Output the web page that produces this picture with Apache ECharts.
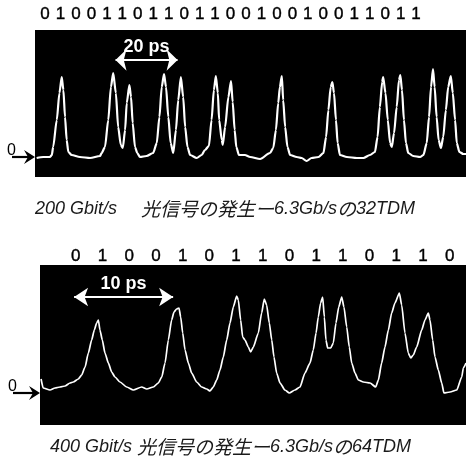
<!DOCTYPE html>
<html><head><meta charset="utf-8">
<script src="https://cdn.jsdelivr.net/npm/echarts@6/dist/echarts.min.js"></script>
<style>html,body{margin:0;padding:0;background:#fff}#c{width:466px;height:464px}</style>
</head><body><div id="c"></div>
<script>
// ---- data ----
const topBits = ['0','1','0','0','1','1','0','1','1','0','1','1','0','0','1','0','0','1','0','0','1','1','0','1','1'];
const bottomBits = ['0','1','0','0','1','0','1','1','0','1','1','0','1','1','0'];

// 200 Gbit/s trace: time (ps), amplitude (a.u.)
const topTime = [0.5,2.5,4.5,5.1,5.5,6.6,7.4,8.1,8.6,9.1,9.6,10.1,11.1,13.6,16.7,19.7,20.2,21.2,22.2,23.0,23.7,24.5,25.2,26.0,26.6,27.3,27.8,28.6,29.1,29.6,30.3,31.0,31.8,33.8,35.8,36.9,37.7,38.4,39.1,39.7,40.4,41.1,41.9,42.7,43.4,44.2,44.9,45.5,46.2,47.0,49.0,50.5,51.5,52.7,53.5,54.2,54.8,55.4,55.8,56.6,56.9,57.6,58.6,59.4,59.9,60.5,61.0,61.8,63.6,65.2,68.2,71.2,72.2,73.0,73.7,74.2,74.8,75.2,75.8,76.5,77.3,79.3,80.8,82.3,83.8,85.9,87.4,88.2,88.9,89.6,90.1,90.6,91.2,91.7,92.4,94.5,97.5,99.5,101.5,103.0,103.8,104.5,105.2,105.5,106.2,106.9,107.6,108.1,108.8,109.6,110.3,110.7,111.2,111.8,112.4,113.1,114.6,116.7,117.7,118.7,119.4,120.0,120.6,121.1,121.7,122.3,123.0,123.7,124.5,125.2,126.0,126.6,127.3,127.8,128.6,129.8,130.6];
const topAmp  = [-0.01,0.00,0.00,0.02,0.10,0.37,0.64,0.80,0.67,0.40,0.17,0.05,0.02,0.00,-0.01,0.01,0.04,0.10,0.37,0.70,0.84,0.64,0.30,0.12,0.09,0.27,0.54,0.72,0.60,0.34,0.10,0.04,0.00,0.01,0.04,0.14,0.40,0.70,0.83,0.70,0.40,0.14,0.04,0.27,0.57,0.80,0.60,0.30,0.10,0.02,-0.01,0.02,0.07,0.11,0.37,0.67,0.81,0.64,0.37,0.17,0.12,0.30,0.60,0.76,0.55,0.27,0.10,0.02,0.02,0.00,-0.02,0.04,0.09,0.27,0.54,0.70,0.81,0.57,0.30,0.10,0.02,0.00,-0.01,-0.04,-0.01,0.00,0.04,0.20,0.47,0.70,0.75,0.64,0.37,0.14,0.02,0.00,-0.01,-0.01,0.02,0.05,0.20,0.50,0.75,0.80,0.64,0.37,0.14,0.10,0.24,0.50,0.77,0.82,0.67,0.37,0.14,0.04,0.01,0.00,0.02,0.14,0.40,0.70,0.88,0.70,0.40,0.17,0.09,0.20,0.47,0.70,0.81,0.64,0.37,0.14,0.05,0.03,0.03];

// 400 Gbit/s trace: time (ps), amplitude (a.u.)
const bottomTime = [0.1,0.3,0.94,1.41,1.88,2.35,2.82,3.13,3.60,3.91,4.23,4.54,4.85,5.10,5.32,5.48,5.63,5.85,6.10,6.42,6.73,7.04,7.51,8.14,8.76,9.55,10.02,10.64,11.11,11.43,11.74,12.05,12.36,12.58,12.83,13.05,13.21,13.40,13.62,13.93,14.24,14.71,15.18,15.65,15.96,16.27,16.59,16.90,17.21,17.53,17.84,18.15,18.47,18.62,18.84,19.03,19.25,19.56,19.78,20.03,20.50,20.81,21.06,21.28,21.53,21.76,21.97,22.22,22.54,23.00,23.41,23.94,24.41,24.88,25.35,25.66,25.92,26.13,26.35,26.54,26.70,26.85,27.01,27.30,27.54,27.79,28.05,28.33,28.54,28.80,29.04,29.27,29.58,29.89,30.36,30.99,31.52,31.77,32.08,32.39,32.71,33.02,33.33,33.74,33.96,34.27,34.58,34.81,35.05,35.37,35.84,36.15,36.46,36.62,36.87,37.09,37.40,37.72,37.93,38.50,39.13,39.60,39.75,40.0];
const bottomAmp  = [0.14,0.05,0.03,0.05,0.06,0.07,0.10,0.11,0.14,0.18,0.26,0.40,0.53,0.63,0.70,0.73,0.63,0.53,0.40,0.30,0.21,0.16,0.11,0.06,0.03,0.06,0.04,0.06,0.10,0.16,0.30,0.53,0.73,0.81,0.84,0.85,0.76,0.60,0.43,0.30,0.20,0.11,0.06,0.04,0.02,0.06,0.13,0.23,0.36,0.53,0.70,0.86,0.97,0.93,0.73,0.56,0.53,0.46,0.41,0.46,0.60,0.80,0.94,0.88,0.70,0.53,0.36,0.20,0.10,0.03,0.00,0.03,0.06,0.20,0.30,0.43,0.60,0.76,0.90,0.96,0.76,0.53,0.45,0.45,0.50,0.70,0.86,0.96,0.86,0.66,0.46,0.30,0.20,0.13,0.11,0.10,0.06,0.13,0.30,0.46,0.63,0.80,0.90,1.00,0.88,0.60,0.40,0.35,0.38,0.46,0.63,0.73,0.80,0.73,0.53,0.36,0.23,0.10,0.00,0.01,0.03,0.16,0.25,0.30];

// time-span annotations (ps, amplitude level)
const topSpan = [24.4, 43.2];
const topSpanLevel = 0.97;
const topSpanText = '20 ps';
const bottomSpan = [3.2, 12.5];
const bottomSpanLevel = 0.96;
const bottomSpanText = '10 ps';

const topCaption = '{l|200 Gbit/s }{c|　光信号の発生ー}{l|6.3Gb/s}{c|の}{l|32TDM}';
const bottomCaption = '{l|400 Gbit/s }{c|光信号の発生ー}{l|6.3Gb/s}{c|の}{l|64TDM}';

// ---- chart ----
const zip = (xs, ys) => xs.map((x, i) => [x, ys[i]]);
const chart = echarts.init(document.getElementById('c'), null, {renderer: 'canvas'});

const LAT = "'Liberation Sans', Arial, sans-serif";
const CJK = "'Noto Sans CJK JP', sans-serif";
const captionRich = {
  l: {fontFamily: LAT, fontSize: 18, fontStyle: 'italic', fontWeight: 'normal', color: '#1a1a1a', lineHeight: 20},
  c: {fontFamily: CJK, fontSize: 19, fontStyle: 'italic', fontWeight: 'normal', color: '#1a1a1a', lineHeight: 20}
};

function hiddenValueAxis(gi, min, max) {
  return {type: 'value', gridIndex: gi, min: min, max: max, show: false, splitLine: {show: false}};
}
function spanMarkLine(span, level, text, headSize) {
  return {
    silent: true, animation: false,
    symbol: ['arrow', 'arrow'], symbolSize: headSize,
    lineStyle: {color: '#fff', width: 2, type: 'solid'},
    emphasis: {disabled: true},
    label: {show: true, position: 'insideMiddleTop', distance: 4, formatter: text,
      color: '#fff', fontFamily: LAT, fontWeight: 'bold', fontSize: 18},
    data: [[{coord: [span[0], level]}, {coord: [span[1], level]}]]
  };
}
const bitLabel = {interval: 0, margin: 0, fontFamily: LAT, fontSize: 17, color: '#000',
  textBorderColor: '#000', textBorderWidth: 0.4};

chart.setOption({
  animation: false,
  title: [
    {text: topCaption, left: 35, top: 199, padding: 0, textStyle: {fontWeight: 'normal', rich: captionRich}},
    {text: bottomCaption, left: 50, top: 437, padding: 0, textStyle: {fontWeight: 'normal', rich: captionRich}}
  ],
  grid: [
    {left: 35, top: 30, width: 431, height: 147, show: true, backgroundColor: '#000', borderWidth: 0},
    {left: 40, top: 265, width: 426, height: 160, show: true, backgroundColor: '#000', borderWidth: 0},
    {left: 37.3, top: 23, width: 386.5, height: 1},
    {left: 62.5, top: 265, width: 400.5, height: 1}
  ],
  xAxis: [
    {type: 'value', gridIndex: 0, min: 0, max: 130.6, show: false, splitLine: {show: false}},
    {type: 'value', gridIndex: 1, min: 0, max: 40, show: false, splitLine: {show: false}},
    {type: 'category', gridIndex: 2, position: 'top', data: topBits, boundaryGap: true,
      axisLine: {show: false}, axisTick: {show: false}, axisLabel: bitLabel},
    {type: 'category', gridIndex: 3, position: 'top', data: bottomBits, boundaryGap: true,
      axisLine: {show: false}, axisTick: {show: false}, axisLabel: bitLabel}
  ],
  yAxis: [
    hiddenValueAxis(0, -0.2, 1.27),
    hiddenValueAxis(1, -0.32, 1.28),
    hiddenValueAxis(2, 0, 1),
    hiddenValueAxis(3, 0, 1)
  ],
  series: [
    {type: 'line', xAxisIndex: 0, yAxisIndex: 0, data: zip(topTime, topAmp),
      showSymbol: false, smooth: 0.25, smoothMonotone: 'x', silent: true,
      lineStyle: {color: '#fff', width: 2.2},
      markLine: spanMarkLine(topSpan, topSpanLevel, topSpanText, [16, 11])},
    {type: 'line', xAxisIndex: 1, yAxisIndex: 1, data: zip(bottomTime, bottomAmp),
      showSymbol: false, smooth: 0.2, smoothMonotone: 'x', silent: true,
      lineStyle: {color: '#fff', width: 1.7},
      markLine: spanMarkLine(bottomSpan, bottomSpanLevel, bottomSpanText, [14, 14])}
  ]
});

// zero-level markers on the left of each panel, positioned from the axes
function zeroMarker(gridIndex, len) {
  const p = chart.convertToPixel({gridIndex: gridIndex}, [0, 0]);
  const x = p[0], y = p[1];
  return {
    type: 'group', children: [
      {type: 'line', shape: {x1: x - len, y1: y, x2: x - 6, y2: y}, style: {stroke: '#000', lineWidth: 2.2}},
      {type: 'polygon', shape: {points: [[x, y], [x - 11, y - 7], [x - 7, y], [x - 11, y + 7]]}, style: {fill: '#000'}},
      {type: 'text', x: x - len - 5, y: y - 14, style: {text: '0', fontFamily: LAT, fontSize: 16, fill: '#000'}}
    ]
  };
}
chart.setOption({graphic: [zeroMarker(0, 23), zeroMarker(1, 27)]});
</script>
</body></html>
